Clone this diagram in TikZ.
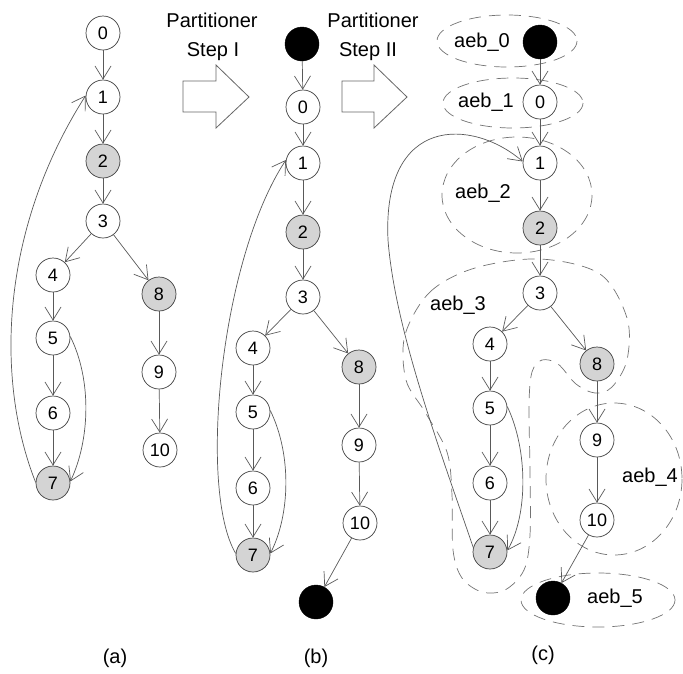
\documentclass[tikz,border=0pt]{standalone}
\usepackage{fontspec}
\setmainfont{Liberation Sans}
\usetikzlibrary{arrows.meta}

\tikzset{
  vtx/.style={circle, draw=black!75, line width=0.7pt, minimum size=34pt, inner sep=0pt,
              fill=white, font=\fontsize{18}{18}\selectfont},
  hot/.style={vtx, fill=black!17},
  term/.style={circle, draw=black, fill=black, minimum size=34pt, inner sep=0pt},
  edge/.style={draw=black!65, line width=0.7pt, -{Straight Barb[length=13pt,width=16pt]}},
  zone/.style={draw=black!55, line width=0.7pt, dash pattern=on 12pt off 8pt},
  lbl/.style={inner sep=0pt, font=\fontsize{20}{20}\selectfont},
  bigarrow/.style={draw=black!60, line width=0.8pt, fill=white, line join=miter}
}

\begin{document}
\begin{tikzpicture}[x=1pt, y=-1pt]
\useasboundingbox (0,0) rectangle (683,673);

% ---------- step arrows and captions ----------
\draw[bigarrow] (183,81) -- (216,81) -- (216,65) -- (249,97) -- (216,128) -- (216,112) -- (183,112) -- cycle;
\draw[bigarrow] (342,81) -- (374,81) -- (374,65) -- (407,97) -- (374,128) -- (374,112) -- (342,112) -- cycle;
\node[lbl] (p1) at (212,20) {Partitioner};
\node[lbl] (s1) at (213,52) {Step I};
\node[lbl] (p2) at (373,20) {Partitioner};
\node[lbl] (s2) at (368,52) {Step II};

% ---------- (a) original graph ----------
\node[vtx] (a0)  at (103,33)  {0};
\node[vtx] (a1)  at (103,97)  {1};
\node[hot] (a2)  at (103,161) {2};
\node[vtx] (a3)  at (103,221) {3};
\node[vtx] (a4)  at (53,275)  {4};
\node[vtx] (a5)  at (53,338)  {5};
\node[vtx] (a6)  at (53,413)  {6};
\node[hot] (a7)  at (53,483)  {7};
\node[hot] (a8)  at (159,294) {8};
\node[vtx] (a9)  at (159,372) {9};
\node[vtx] (a10) at (160,450) {10};
\node[lbl] (la) at (115,658) {(a)};

\foreach \s/\t in {a0/a1, a1/a2, a2/a3, a3/a4, a3/a8, a4/a5, a5/a6, a6/a7, a8/a9, a9/a10}
  \draw[edge] (\s) -- (\t);
\draw[edge] (a7.178) .. controls (-5,380) and (0,230) .. (a1.175);
\draw[edge] (a5.5) .. controls (92,380) and (90,440) .. (a7.5);

% ---------- (b) graph with entry and exit ----------
\node[term] (bs)  at (302,44)  {};
\node[vtx] (b0)  at (303,107) {0};
\node[vtx] (b1)  at (303,163) {1};
\node[hot] (b2)  at (303,232) {2};
\node[vtx] (b3)  at (303,297) {3};
\node[vtx] (b4)  at (253,348) {4};
\node[vtx] (b5)  at (253,412) {5};
\node[vtx] (b6)  at (253,488) {6};
\node[hot] (b7)  at (253,555) {7};
\node[hot] (b8)  at (359,367) {8};
\node[vtx] (b9)  at (359,445) {9};
\node[vtx] (b10) at (360,523) {10};
\node[term] (be)  at (316,602) {};
\node[lbl] (lb) at (316,658) {(b)};

\foreach \s/\t in {bs/b0, b0/b1, b1/b2, b2/b3, b3/b4, b3/b8, b4/b5, b5/b6, b6/b7, b8/b9, b9/b10, b10/be}
  \draw[edge] (\s) -- (\t);
\draw[edge] (b7.175) .. controls (198,490) and (220,260) .. (b1.170);
\draw[edge] (b5.5) .. controls (292,455) and (290,515) .. (b7.5);

% ---------- (c) graph partitioned into blocks ----------
\node[term] (cs)  at (540,42)  {};
\node[vtx] (c0)  at (540,102) {0};
\node[vtx] (c1)  at (540,163) {1};
\node[hot] (c2)  at (540,228) {2};
\node[vtx] (c3)  at (540,293) {3};
\node[vtx] (c4)  at (490,344) {4};
\node[vtx] (c5)  at (490,408) {5};
\node[vtx] (c6)  at (490,483) {6};
\node[hot] (c7)  at (490,552) {7};
\node[hot] (c8)  at (597,364) {8};
\node[vtx] (c9)  at (597,440) {9};
\node[vtx] (c10) at (597,520) {10};
\node[term] (ce)  at (553,598) {};
\node[lbl] (lc) at (543,655) {(c)};

% block outlines
\draw[zone] (507,41) ellipse [x radius=70, y radius=26];
\draw[zone] (513,103) ellipse [x radius=70, y radius=25];
\draw[zone] (517,195) ellipse [x radius=75, y radius=58];
\draw[zone] (614,479) ellipse [x radius=68, y radius=76];
\draw[zone] (598,600) ellipse [x radius=77, y radius=27];
\draw[zone] plot[smooth cycle, tension=0.55] coordinates {
  (405,335) (430,292) (475,268) (540,259) (600,274) (627,318) (627,360)
  (612,387) (595,393) (576,384) (558,364) (542,360) (532,372) (529,405)
  (530,470) (530,535) (524,570) (505,590) (482,592) (462,578) (453,550)
  (452,495) (447,452) (425,412) (406,380)};

\node[lbl] (k0) at (482,42)  {aeb\_0};
\node[lbl] (k1) at (486,102) {aeb\_1};
\node[lbl] (k2) at (483,193) {aeb\_2};
\node[lbl] (k3) at (458,305) {aeb\_3};
\node[lbl] (k4) at (650,477) {aeb\_4};
\node[lbl] (k5) at (615,598) {aeb\_5};

\foreach \s/\t in {cs/c0, c0/c1, c1/c2, c2/c3, c3/c4, c3/c8, c4/c5, c5/c6, c6/c7, c8/c9, c9/c10, c10/ce}
  \draw[edge] (\s) -- (\t);
\draw[edge] (c7.165) .. controls (440,450) and (395,330) .. (388,240)
                     .. controls (382,115) and (472,118) .. (c1.175);
\draw[edge] (c5.5) .. controls (528,450) and (528,515) .. (c7.5);
\end{tikzpicture}
\end{document}
